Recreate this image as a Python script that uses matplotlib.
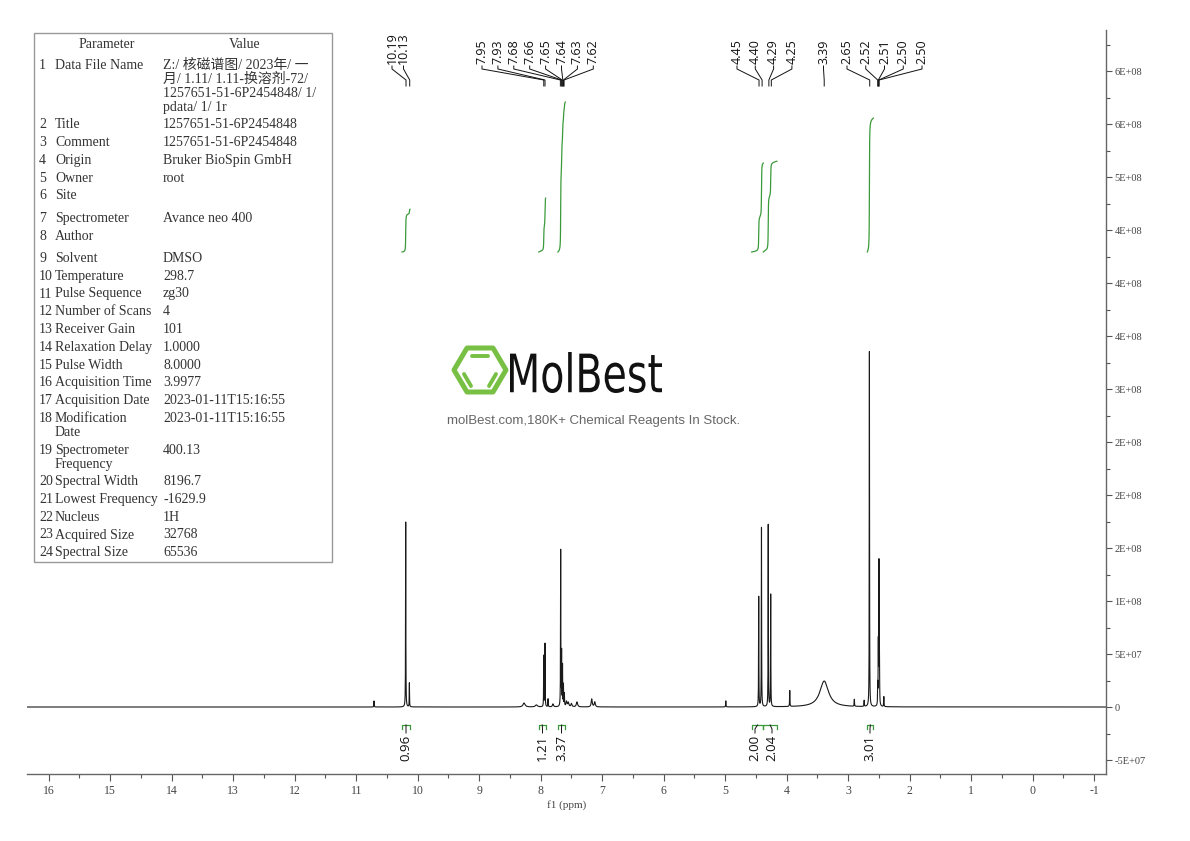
import numpy as np
import matplotlib.pyplot as plt
from matplotlib import transforms
from matplotlib.ticker import FixedLocator, MultipleLocator, FuncFormatter
from matplotlib.textpath import TextPath
from matplotlib.patches import PathPatch, Polygon, Rectangle
from matplotlib.font_manager import FontProperties

plt.rcParams['font.family'] = ['Liberation Serif', 'Noto Sans CJK SC']

# -----------------------------
# Spectrum peaks (ppm, height in 1e6, half width in ppm)
# -----------------------------
peak_ppm = [10.71, 10.195, 10.135, 8.27, 8.07, 7.95, 7.93, 7.88, 7.80,
            7.675, 7.66, 7.645, 7.63, 7.615, 7.58, 7.55, 7.50, 7.41, 7.17, 7.12,
            4.99, 4.455, 4.41, 4.30, 4.26, 3.95, 3.39, 2.90, 2.74, 2.655,
            2.52, 2.51, 2.50, 2.495, 2.49, 2.42]
peak_height = [5.7, 174.5, 22.6, 3.8, 1.9, 48.0, 59.4, 7.5, 2.8,
               147.0, 50.0, 38.0, 20.0, 12.0, 5.0, 4.0, 3.0, 4.7, 7.5, 4.7,
               5.7, 103.8, 168.9, 171.7, 105.7, 15.0, 24.5, 6.6, 5.7, 335.0,
               19.0, 56.0, 123.0, 60.0, 18.0, 9.4]
peak_width = [0.003, 0.0025, 0.0025, 0.02, 0.02, 0.0025, 0.0025, 0.003, 0.01,
              0.0025, 0.0025, 0.0025, 0.0025, 0.003, 0.01, 0.01, 0.01, 0.012, 0.01, 0.01,
              0.003, 0.0025, 0.0025, 0.0025, 0.0025, 0.003, 0.085, 0.003, 0.003, 0.0025,
              0.0025, 0.0025, 0.0025, 0.0025, 0.0025, 0.003]

# peak picking labels, grouped
label_groups = [[10.19, 10.13],
                [7.95, 7.93, 7.68, 7.66, 7.65, 7.64, 7.63, 7.62],
                [4.45, 4.40, 4.29, 4.25],
                [3.39],
                [2.65, 2.52, 2.51, 2.502, 2.498]]

# integrals
int_start = [10.255, 8.03, 7.72, 4.57, 4.38, 2.69]
int_end = [10.125, 7.92, 7.60, 4.38, 4.16, 2.59]
int_value = [0.96, 1.21, 3.37, 2.00, 2.04, 3.01]

# parameter table
param_names = ['Data File Name', 'Title', 'Comment', 'Origin', 'Owner', 'Site',
               'Spectrometer', 'Author', 'Solvent', 'Temperature', 'Pulse Sequence',
               'Number of Scans', 'Receiver Gain', 'Relaxation Delay', 'Pulse Width',
               'Acquisition Time', 'Acquisition Date', 'Modification\nDate',
               'Spectrometer\nFrequency', 'Spectral Width', 'Lowest Frequency',
               'Nucleus', 'Acquired Size', 'Spectral Size']
param_values = ['Z:/ 核磁谱图/ 2023年/ 一\n月/ 1.11/ 1.11-换溶剂-72/\n1257651-51-6P2454848/ 1/\npdata/ 1/ 1r',
                '1257651-51-6P2454848', '1257651-51-6P2454848', 'Bruker BioSpin GmbH',
                'root', '', 'Avance neo 400', '', 'DMSO', '298.7', 'zg30', '4', '101',
                '1.0000', '8.0000', '3.9977', '2023-01-11T15:16:55', '2023-01-11T15:16:55',
                '400.13', '8196.7', '-1629.9', '1H', '32768', '65536']

# -----------------------------
# Layout (pixels)
# -----------------------------
W, H = 1190, 841
AX_L, AX_R, AX_T, AX_B = 27, 1106, 30, 774
XL = (16.353, -1.192)
YL = (-6.32e7, 6.387e8)
label_layout = [(392, 11.5), (482, 15.9), (737, 18.3), (823.5, 0), (847, 18.75)]
int_label_px = [406, 542.5, 561.5, 755, 772, 870]
green = '#3a9a3a'


def ppm_from_px(px):
    return XL[0] + (px - AX_L) / (AX_R - AX_L) * (XL[1] - XL[0])


fig = plt.figure(figsize=(W / 100, H / 100), dpi=100)
ax = fig.add_axes([AX_L / W, 1 - AX_B / H, (AX_R - AX_L) / W, (AX_B - AX_T) / H])
ov = fig.add_axes([0, 0, 1, 1])
ov.set_xlim(0, W)
ov.set_ylim(H, 0)
ov.axis('off')
ov.patch.set_visible(False)
trans = transforms.blended_transform_factory(ax.transData, ov.transData)

# -----------------------------
# Spectrum
# -----------------------------
x = np.arange(-1.25, 16.4, 0.0005)
y = np.zeros_like(x)
for p, h, g in zip(peak_ppm, peak_height, peak_width):
    y += h * 1e6 * g ** 2 / ((x - p) ** 2 + g ** 2)
ax.plot(x, y, color='#1a1a1a', lw=0.8)

ax.set_xlim(*XL)
ax.set_ylim(*YL)
for s in ['left', 'top']:
    ax.spines[s].set_visible(False)
for s in ['right', 'bottom']:
    ax.spines[s].set_color('#666')
    ax.spines[s].set_linewidth(1.0)
ax.patch.set_visible(False)

ax.xaxis.set_major_locator(MultipleLocator(1))
ax.xaxis.set_minor_locator(MultipleLocator(0.5))
ax.xaxis.set_major_formatter(FuncFormatter(lambda v, p: '%d' % round(v)))
ax.tick_params(axis='x', which='major', direction='out', length=5, width=0.8,
               color='#555', labelsize=8.5, labelcolor='#444', pad=3)
ax.tick_params(axis='x', which='minor', direction='out', length=3, width=0.8, color='#555')
ax.set_xlabel('f1 (ppm)', fontsize=8, color='#444', labelpad=2)

ax.yaxis.tick_right()
ax.yaxis.set_major_locator(FixedLocator([k * 50_000_000 for k in range(-1, 13)]))
ax.yaxis.set_minor_locator(FixedLocator([k * 50_000_000 + 25_000_000 for k in range(-2, 13)]))
ax.yaxis.set_major_formatter(FuncFormatter(lambda v, p: '0' if abs(v) < 1 else '%.0E' % v))
ax.tick_params(axis='y', which='major', direction='out', length=4, width=0.8,
               color='#555', labelsize=7.5, labelcolor='#444', pad=2)
ax.tick_params(axis='y', which='minor', direction='out', length=3, width=0.8, color='#555')

# -----------------------------
# Peak labels
# -----------------------------
for grp, (start_px, step_px) in zip(label_groups, label_layout):
    for i, v in enumerate(grp):
        lx = ppm_from_px(start_px + i * step_px)
        ax.text(lx, 64, '%.2f' % v, rotation=90, ha='center', va='bottom',
                fontsize=9, family='Open Sans', color='#111',
                transform=trans, clip_on=False)
        ax.plot([lx, lx, v, v], [66, 69, 80, 86], color='#111', lw=0.7,
                transform=trans, clip_on=False)

# -----------------------------
# Integrals
# -----------------------------
for s, e, val, lpx in zip(int_start, int_end, int_value, int_label_px):
    m = (x <= s) & (x >= e)
    xs = x[m][::-1]
    cs = np.cumsum(y[m][::-1])
    cs = cs / cs[-1]
    ax.plot(xs, 252 - cs * val * 44.5, color=green, lw=0.9,
            transform=trans, clip_on=False)
    ax.plot([s, s, e, e], [729, 725, 725, 729], color=green, lw=0.9,
            transform=trans, clip_on=False)
    c = (s + e) / 2
    lx = ppm_from_px(lpx)
    ax.plot([c, lx, lx], [725, 729, 733], color='#111', lw=0.7,
            transform=trans, clip_on=False)
    ax.text(lx, 735, '%.2f' % val, rotation=90, ha='center', va='top',
            fontsize=9.5, family='Open Sans', color='#111',
            transform=trans, clip_on=False)

# -----------------------------
# Parameter table
# -----------------------------
ov.add_patch(Rectangle((34, 33), 298, 529, fc='white', ec='#999', lw=1))
tcol = '#333'
tfont = dict(fontsize=10, color=tcol, va='center')
ov.text(107, 44, 'Parameter', ha='center', **tfont)
ov.text(245, 44, 'Value', ha='center', **tfont)
extra_gap = {6: 5, 8: 4.5}
ty = 65
for i, (nm, val) in enumerate(zip(param_names, param_values)):
    ty += extra_gap.get(i, 0)
    ov.text(39, ty, str(i + 1), ha='left', **tfont)
    nlines = max(nm.count('\n'), val.count('\n')) + 1
    for j, line in enumerate(nm.split('\n')):
        ov.text(55, ty + j * 14, line, ha='left', **tfont)
    for j, line in enumerate(val.split('\n')):
        ov.text(163, ty + j * 14, line, ha='left', **tfont)
    ty += 14 * (nlines - 1) + 17.75

# -----------------------------
# Watermark
# -----------------------------
logo_green = '#78c043'
hexagon = Polygon([(454, 370), (467, 348), (493, 348), (506, 370), (493, 392), (467, 392)],
                  closed=True, fill=False, ec=logo_green, lw=3.6, joinstyle='round')
ov.add_patch(hexagon)
ov.plot([472, 488], [356, 356], color=logo_green, lw=2.8, solid_capstyle='round')
ov.plot([464, 471], [374, 386], color=logo_green, lw=2.8, solid_capstyle='round')
ov.plot([496, 489], [374, 386], color=logo_green, lw=2.8, solid_capstyle='round')

tp = TextPath((0, 0), 'MolBest', size=100, prop=FontProperties(family='DejaVu Sans'))
bb = tp.get_extents()
tr = transforms.Affine2D().translate(-bb.x0, -bb.y0).scale(152 / bb.width, -41 / bb.height).translate(510, 393)
ov.add_patch(PathPatch(tr.transform_path(tp), fc='#111', ec='none'))
ov.text(594, 421, 'molBest.com,180K+ Chemical Reagents In Stock.', ha='center', va='center',
        fontsize=9.5, family='Liberation Sans', color='#666')

fig.savefig('out.png', dpi=100)
